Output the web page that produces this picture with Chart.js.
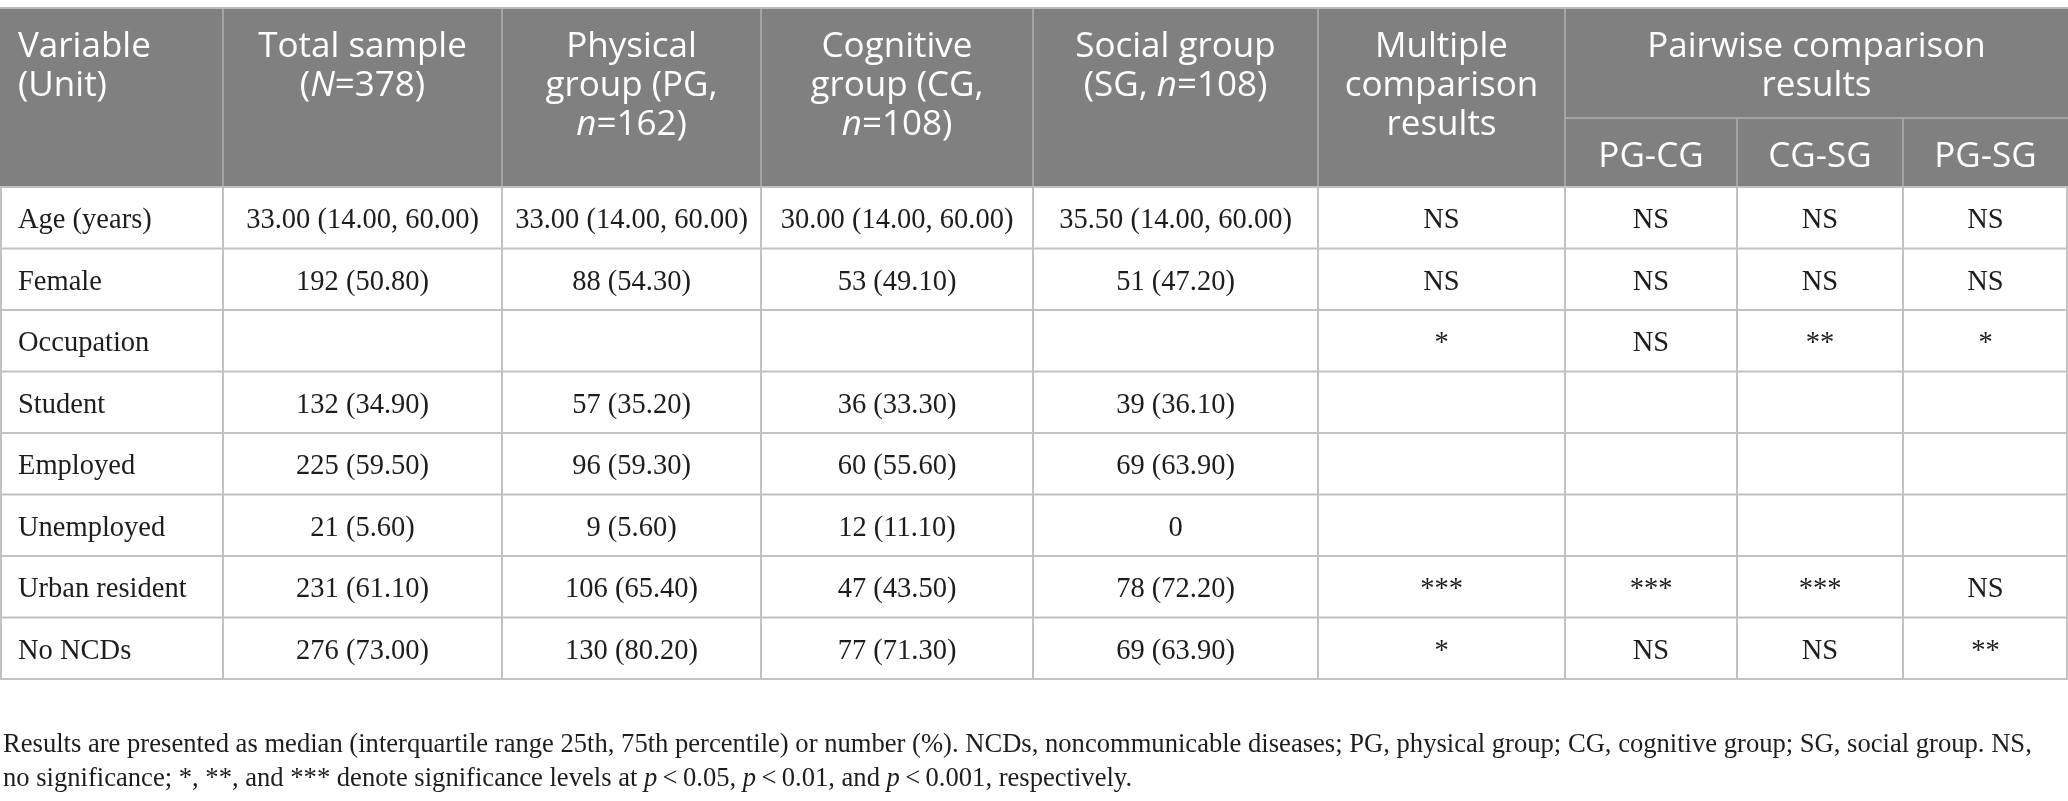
<!DOCTYPE html>
<html>
<head>
<meta charset="utf-8">
<script src="https://cdn.jsdelivr.net/npm/chart.js@4.4.1/dist/chart.umd.min.js"></script>
<style>
html,body{margin:0;padding:0;background:#fff;}
#wrap{width:2068px;height:801px;position:relative;}
</style>
</head>
<body>
<div id="wrap"><canvas id="c"></canvas></div>
<script>
// ---- data ----
const rowLabels = ['Age (years)', 'Female', 'Occupation', 'Student', 'Employed', 'Unemployed', 'Urban resident', 'No NCDs'];
const totalSample = ['33.00 (14.00, 60.00)', '192 (50.80)', '', '132 (34.90)', '225 (59.50)', '21 (5.60)', '231 (61.10)', '276 (73.00)'];
const physicalGroup = ['33.00 (14.00, 60.00)', '88 (54.30)', '', '57 (35.20)', '96 (59.30)', '9 (5.60)', '106 (65.40)', '130 (80.20)'];
const cognitiveGroup = ['30.00 (14.00, 60.00)', '53 (49.10)', '', '36 (33.30)', '60 (55.60)', '12 (11.10)', '47 (43.50)', '77 (71.30)'];
const socialGroup = ['35.50 (14.00, 60.00)', '51 (47.20)', '', '39 (36.10)', '69 (63.90)', '0', '78 (72.20)', '69 (63.90)'];
const multipleComparison = ['NS', 'NS', '*', '', '', '', '***', '*'];
const pgCg = ['NS', 'NS', 'NS', '', '', '', '***', 'NS'];
const cgSg = ['NS', 'NS', '**', '', '', '', '***', 'NS'];
const pgSg = ['NS', 'NS', '*', '', '', '', 'NS', '**'];

// header labels (_x_ = italic)
const headerLabels = [
  ['Variable', '(Unit)'],
  ['Total sample', '(_N_=378)'],
  ['Physical', 'group (PG,', '_n_=162)'],
  ['Cognitive', 'group (CG,', '_n_=108)'],
  ['Social group', '(SG, _n_=108)'],
  ['Multiple', 'comparison', 'results']
];
const spanHeader = ['Pairwise comparison', 'results'];
const subHeaders = ['PG-CG', 'CG-SG', 'PG-SG'];
const footnoteLines = [
  'Results are presented as median (interquartile range 25th, 75th percentile) or number (%). NCDs, noncommunicable diseases; PG, physical group; CG, cognitive group; SG, social group. NS,',
  'no significance; *, **, and *** denote significance levels at _p_\u2009<\u20090.05, _p_\u2009<\u20090.01, and _p_\u2009<\u20090.001, respectively.'
];

const columns = [rowLabels, totalSample, physicalGroup, cognitiveGroup, socialGroup, multipleComparison, pgCg, cgSg, pgSg];

// ---- layout (pixel-space values on the scales) ----
const L = {
  colEdges: [0, 223, 502, 761, 1033, 1318, 1565, 1737, 1903, 2068],
  top: 9, headerBottom: 187, subLine: 118, rowH: 61.5,
  headBase: 57, headLH: 39, subBase: 167, bodyBase: 41,
  footBase: [752, 786], footX: 3,
  headerFont: '35px "Open Sans"', bodyFont: '28.5px "Liberation Serif"', footFont: '26.6px "Liberation Serif"',
  headerBg: '#7f807f', headerLine: '#a3a4a3', grid: '#c2c2c2', text: '#1d1d1b'
};

function drawRich(ctx, str, x, y, align, font, italicFont) {
  const parts = str.split('_');
  let w = 0;
  parts.forEach((p, i) => { ctx.font = i % 2 ? italicFont : font; w += ctx.measureText(p).width; });
  let cx = align === 'center' ? x - w / 2 : x;
  ctx.textAlign = 'left';
  parts.forEach((p, i) => { ctx.font = i % 2 ? italicFont : font; ctx.fillText(p, cx, y); cx += ctx.measureText(p).width; });
}

const tablePlugin = {
  id: 'table',
  afterDraw(chart) {
    const ctx = chart.ctx, xs = chart.scales.x, ys = chart.scales.y;
    const X = v => xs.getPixelForValue(v), Y = v => ys.getPixelForValue(v);
    const E = L.colEdges;
    const nRows = rowLabels.length;
    const bottom = L.headerBottom + nRows * L.rowH;
    ctx.save();
    // header background
    ctx.fillStyle = L.headerBg;
    ctx.fillRect(X(0), Y(L.top), X(2068) - X(0), Y(L.headerBottom) - Y(L.top));
    // top border
    ctx.fillStyle = '#b9b9b9';
    ctx.fillRect(X(0), Y(L.top) - 2, X(2068) - X(0), 2);
    // header vertical lines
    ctx.strokeStyle = L.headerLine; ctx.lineWidth = 2;
    for (let i = 1; i < E.length - 1; i++) {
      const t = i >= 7 ? L.subLine : L.top;
      ctx.beginPath(); ctx.moveTo(X(E[i]), Y(t)); ctx.lineTo(X(E[i]), Y(L.headerBottom)); ctx.stroke();
    }
    ctx.beginPath(); ctx.moveTo(X(E[6]), Y(L.subLine)); ctx.lineTo(X(E[9]), Y(L.subLine)); ctx.stroke();
    // body grid
    ctx.strokeStyle = L.grid; ctx.lineWidth = 2;
    for (let r = 0; r <= nRows; r++) {
      const yy = Y(L.headerBottom + r * L.rowH);
      ctx.beginPath(); ctx.moveTo(X(0), yy); ctx.lineTo(X(2068), yy); ctx.stroke();
    }
    for (let i = 0; i < E.length; i++) {
      const xx = Math.min(Math.max(X(E[i]), 1), 2067);
      ctx.beginPath(); ctx.moveTo(xx, Y(L.headerBottom)); ctx.lineTo(xx, Y(bottom)); ctx.stroke();
    }
    // header text
    ctx.fillStyle = '#ffffff'; ctx.textBaseline = 'alphabetic';
    const hf = L.headerFont, hfi = 'italic ' + L.headerFont;
    headerLabels.forEach((lines, c) => {
      lines.forEach((ln, k) => {
        const yy = Y(L.headBase + k * L.headLH);
        if (c === 0) drawRich(ctx, ln, X(E[0]) + 18, yy, 'left', hf, hfi);
        else drawRich(ctx, ln, X((E[c] + E[c + 1]) / 2), yy, 'center', hf, hfi);
      });
    });
    spanHeader.forEach((ln, k) => drawRich(ctx, ln, X((E[6] + E[9]) / 2), Y(L.headBase + k * L.headLH), 'center', hf, hfi));
    subHeaders.forEach((ln, k) => drawRich(ctx, ln, X((E[6 + k] + E[7 + k]) / 2), Y(L.subBase), 'center', hf, hfi));
    // body text
    ctx.fillStyle = L.text;
    const bf = L.bodyFont, bfi = 'italic ' + L.bodyFont;
    columns.forEach((col, c) => {
      col.forEach((v, r) => {
        if (!v) return;
        const yy = Y(L.headerBottom + r * L.rowH + L.bodyBase);
        if (c === 0) drawRich(ctx, v, X(E[0]) + 18, yy, 'left', bf, bfi);
        else drawRich(ctx, v, X((E[c] + E[c + 1]) / 2), yy, 'center', bf, bfi);
      });
    });
    // footnote
    const ff = L.footFont, ffi = 'italic ' + L.footFont;
    footnoteLines.forEach((ln, k) => drawRich(ctx, ln, X(L.footX), Y(L.footBase[k]), 'left', ff, ffi));
    ctx.restore();
  }
};

new Chart(document.getElementById('c'), {
  type: 'scatter',
  data: { datasets: [{ data: [], pointRadius: 0 }] },
  options: {
    responsive: true, maintainAspectRatio: false, animation: false,
    layout: { padding: 0 },
    plugins: { legend: { display: false }, tooltip: { enabled: false } },
    scales: {
      x: { type: 'linear', min: 0, max: 2068, display: false },
      y: { type: 'linear', min: 0, max: 801, reverse: true, display: false }
    }
  },
  plugins: [tablePlugin]
});
</script>
</body>
</html>
